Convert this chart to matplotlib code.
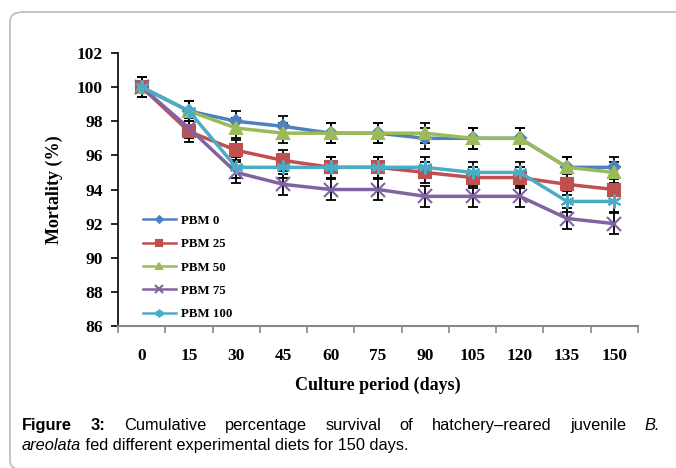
import matplotlib
matplotlib.use("Agg")
import matplotlib.pyplot as plt
import numpy as np
from matplotlib.patches import FancyBboxPatch

# Datos
dias = ["0", "15", "30", "45", "60", "75", "90", "105", "120", "135", "150"]
pbm0 = [100, 98.6, 98.0, 97.7, 97.3, 97.3, 97.0, 97.0, 97.0, 95.3, 95.3]
pbm25 = [100, 97.4, 96.3, 95.7, 95.3, 95.3, 95.0, 94.7, 94.7, 94.3, 94.0]
pbm50 = [100, 98.6, 97.6, 97.3, 97.3, 97.3, 97.3, 97.0, 97.0, 95.3, 95.0]
pbm75 = [100, 97.6, 95.0, 94.3, 94.0, 94.0, 93.6, 93.6, 93.6, 92.3, 92.0]
pbm100 = [100, 98.6, 95.3, 95.3, 95.3, 95.3, 95.3, 95.0, 95.0, 93.3, 93.3]
error = 0.6
nombres = ["PBM 0", "PBM 25", "PBM 50", "PBM 75", "PBM 100"]

series = [pbm0, pbm25, pbm50, pbm75, pbm100]
colores = ["#4F81BD", "#C0504D", "#9BBB59", "#8064A2", "#4BACC6"]
marcadores = ["D", "s", "^", "x", (6, 2, 0)]
tamanos = [6, 9, 9, 10, 10]

fig = plt.figure(figsize=(6.76, 4.68), dpi=100)
W, H = 676, 468

# Marco redondeado
marco = FancyBboxPatch((10 / W, 1 - 470 / H), 700 / W, 458 / H,
                       boxstyle="round,pad=0,rounding_size=0.02",
                       transform=fig.transFigure, facecolor="none",
                       edgecolor="#bbbbbb", linewidth=1.2, zorder=-5)
fig.patches.append(marco)

ax = fig.add_axes([118 / W, 1 - 326 / H, 520 / W, 273 / H])
ax.set_facecolor("none")
x = np.arange(len(dias))

for datos, c, m, s, n in zip(series, colores, marcadores, tamanos, nombres):
    ax.errorbar(x, datos, yerr=error, fmt="none", ecolor="black",
                elinewidth=1.3, capsize=3.5, capthick=1.3, zorder=2)
    ax.plot(x, datos, color=c, marker=m, markersize=s, linewidth=2.5,
            markeredgewidth=1.5, label=n, zorder=3)

ax.set_xlim(-0.5, len(dias) - 0.5)
ax.set_ylim(86, 102)
ax.set_yticks(np.arange(86, 103, 2))
ax.set_xticks(x)
ax.set_xticklabels(dias)
ax.set_xticks(np.arange(-0.5, len(dias), 1), minor=True)
ax.tick_params(axis="x", which="major", length=0, pad=16)
ax.tick_params(axis="x", which="minor", length=5, width=1.2, color="#888888")
ax.tick_params(axis="y", length=5, width=1.2, pad=6)

for lab in ax.get_xticklabels() + ax.get_yticklabels():
    lab.set_fontfamily("Liberation Serif")
    lab.set_fontweight("bold")
    lab.set_fontsize(12.5)

ax.spines["top"].set_visible(False)
ax.spines["right"].set_visible(False)
ax.spines["left"].set_linewidth(1.2)
ax.spines["bottom"].set_color("#888888")
ax.spines["bottom"].set_linewidth(1.5)

ax.set_ylabel("Mortality (%)", fontfamily="Liberation Serif", fontweight="bold",
              fontsize=13, labelpad=10)
ax.set_xlabel("Culture period (days)", fontfamily="Liberation Serif",
              fontweight="bold", fontsize=13, labelpad=9)

leg = ax.legend(loc="lower left", bbox_to_anchor=(0.025, -0.022), frameon=False,
                prop={"family": "Liberation Serif", "weight": "bold", "size": 9.3},
                markerscale=0.55, handlelength=2.6, labelspacing=0.88,
                handletextpad=0.4)
for h in leg.legend_handles:
    h.set_linewidth(1.8)

# Pie de figura justificado
fig.canvas.draw()
renderer = fig.canvas.get_renderer()
fs = 11.8
linea1 = [("Figure", "bold", "normal"), ("3:", "bold", "normal"),
          ("Cumulative", "normal", "normal"), ("percentage", "normal", "normal"),
          ("survival", "normal", "normal"), ("of", "normal", "normal"),
          ("hatchery\u2013reared", "normal", "normal"), ("juvenile", "normal", "normal"),
          ("B.", "normal", "italic")]
textos = []
anchos = []
for palabra, peso, estilo in linea1:
    t = fig.text(0, 1 - 430 / H, palabra, fontfamily="Liberation Sans",
                 fontweight=peso, fontstyle=estilo, fontsize=fs, va="baseline")
    bb = t.get_window_extent(renderer)
    textos.append(t)
    anchos.append(bb.width)
x0, x1 = 22, 660
hueco = (x1 - x0 - sum(anchos)) / (len(anchos) - 1)
pos = x0
for t, a in zip(textos, anchos):
    t.set_x(pos / W)
    pos += a + hueco

t1 = fig.text(x0 / W, 1 - 450 / H, "areolata", fontfamily="Liberation Sans",
              fontstyle="italic", fontsize=fs, va="baseline")
a1 = t1.get_window_extent(renderer).width
fig.text((x0 + a1) / W, 1 - 450 / H, " fed different experimental diets for 150 days.",
         fontfamily="Liberation Sans", fontsize=fs, va="baseline")

fig.savefig("out.png", dpi=100)
